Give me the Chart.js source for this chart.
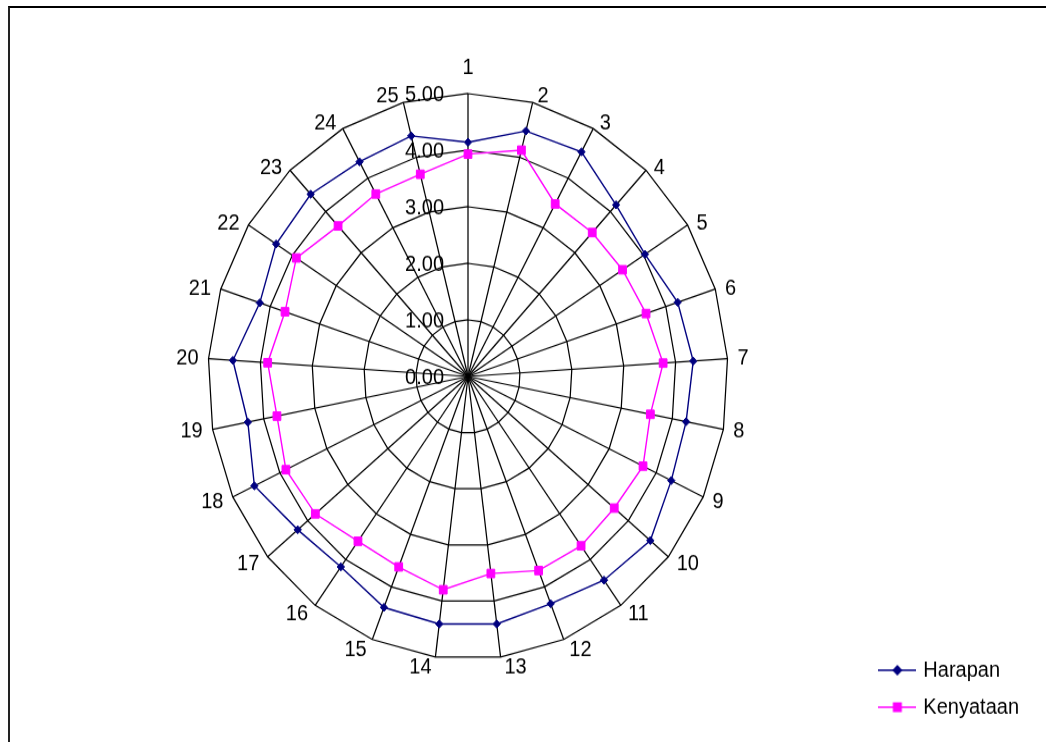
<!DOCTYPE html>
<html>
<head>
<meta charset="utf-8">
<script src="https://cdn.jsdelivr.net/npm/chart.js@4.4.1/dist/chart.umd.min.js"></script>
<style>
  html, body { margin: 0; padding: 0; background: #fff; overflow: hidden; }
  body { width: 1046px; height: 742px; position: relative; }
  #frame { position: absolute; left: 8px; top: 6px; width: 1100px; height: 800px;
           border-top: 2px solid #000; border-left: 2px solid #222; }
  #wrap { position: absolute; left: 0; top: 0; width: 1046px; height: 682px;
          transform: scaleY(1.088); transform-origin: 0 0; }
</style>
</head>
<body>
<div id="frame"></div>
<div id="wrap"><canvas id="radar"></canvas></div>
<script>
// Survey items 1..25
const categories = ['1','2','3','4','5','6','7','8','9','10','11','12','13','14','15','16','17','18','19','20','21','22','23','24','25'];

// Mean scores per item
const harapan   = [4.14, 4.48, 4.53, 4.16, 4.03, 4.24, 4.34, 4.27, 4.32, 4.55, 4.45, 4.32, 4.41,
                   4.41, 4.39, 4.16, 4.25, 4.54, 4.31, 4.53, 4.21, 4.37, 4.42, 4.33, 4.39];
const kenyataan = [3.93, 4.13, 3.48, 3.49, 3.52, 3.60, 3.76, 3.57, 3.72, 3.65, 3.70, 3.69, 3.51,
                   3.80, 3.62, 3.60, 3.81, 3.87, 3.74, 3.86, 3.70, 3.91, 3.65, 3.68, 3.69];

// Radial axis ticks
const tickValues = [0, 1, 2, 3, 4, 5];

const FONT = '"Liberation Sans", Arial, sans-serif';
Chart.defaults.font.family = FONT;
Chart.defaults.font.size = 20;
Chart.defaults.color = '#000';

const NAVY = '#000080';
const MAGENTA = '#ff00ff';

// Small line-with-marker swatches for the legend
function swatch(color, shape) {
  const c = document.createElement('canvas');
  c.width = 38; c.height = 16;
  const g = c.getContext('2d');
  g.strokeStyle = color; g.lineWidth = 1.5;
  g.beginPath(); g.moveTo(0, 8); g.lineTo(38, 8); g.stroke();
  g.fillStyle = color;
  g.beginPath();
  if (shape === 'diamond') {
    g.moveTo(19, 3); g.lineTo(24, 8); g.lineTo(19, 13); g.lineTo(14, 8);
  } else {
    g.rect(14.5, 3.5, 9, 9);
  }
  g.closePath(); g.fill();
  return c;
}
const legendIcons = [swatch(NAVY, 'diamond'), swatch(MAGENTA, 'square')];

// Axis value labels and category labels, placed around the polygon outline
const axisText = {
  id: 'axisText',
  afterDraw(chart) {
    const r = chart.scales.r;
    const ctx = chart.ctx;
    ctx.save();
    ctx.font = '20px ' + FONT;
    ctx.fillStyle = '#000';
    ctx.textBaseline = 'middle';

    ctx.textAlign = 'right';
    r.ticks.forEach(t => {
      const d = r.getDistanceFromCenterForValue(t.value);
      ctx.fillText(t.label, r.xCenter - 24, r.yCenter - d + 1.5);
    });

    ctx.textAlign = 'center';
    chart.data.labels.forEach((lab, i) => {
      const a = r.getIndexAngle(i);
      const p = r.getPointPosition(i, r.drawingArea);
      const s = Math.sin(a), c = Math.cos(a);
      const w = ctx.measureText(lab).width;
      let dx = 0, dy;
      if (Math.abs(s) > 0.01) dx = Math.sign(s) * (w / 2 + 3 + 7 * Math.abs(s));
      if (Math.abs(s) <= 0.01 && c > 0) dy = -23.5;
      else if (c > 0) dy = -6.4 * c * c * c;
      else dy = -10.1 * c;
      ctx.fillText(lab, p.x + dx, p.y + dy);
    });
    ctx.restore();
  }
};

new Chart(document.getElementById('radar'), {
  type: 'radar',
  data: {
    labels: categories,
    datasets: [
      {
        label: 'Harapan',
        data: harapan,
        borderColor: NAVY,
        backgroundColor: NAVY,
        borderWidth: 1.4,
        fill: false,
        pointStyle: 'rectRot',
        pointRadius: 3.7,
        pointBorderWidth: 1,
        pointBackgroundColor: NAVY,
        pointBorderColor: NAVY
      },
      {
        label: 'Kenyataan',
        data: kenyataan,
        borderColor: MAGENTA,
        backgroundColor: MAGENTA,
        borderWidth: 1.4,
        fill: false,
        pointStyle: 'rect',
        pointRadius: 5.5,
        pointBorderWidth: 1,
        pointBackgroundColor: MAGENTA,
        pointBorderColor: MAGENTA
      }
    ]
  },
  options: {
    responsive: true,
    maintainAspectRatio: false,
    animation: false,
    events: [],
    layout: { padding: { right: 17, bottom: 8 } },
    elements: { line: { tension: 0 } },
    scales: {
      r: {
        min: 0,
        max: 5,
        startAngle: 0,
        afterBuildTicks(scale) {
          scale.ticks = tickValues.map(v => ({ value: v }));
        },
        afterFit(scale) {
          scale.xCenter = 468;
          scale.yCenter = 346;
          scale.drawingArea = 260;
        },
        ticks: { display: false, callback: v => Number(v).toFixed(2) },
        pointLabels: { display: false },
        grid: { circular: false, color: '#000', lineWidth: 1.25 },
        angleLines: { color: '#000', lineWidth: 1.25 }
      }
    },
    plugins: {
      tooltip: { enabled: false },
      legend: {
        position: 'right',
        align: 'end',
        labels: {
          usePointStyle: true,
          pointStyleWidth: 32,
          padding: 14,
          color: '#000',
          font: { size: 20 },
          generateLabels(chart) {
            return chart.data.datasets.map((ds, i) => ({
              text: ds.label,
              pointStyle: legendIcons[i],
              fillStyle: ds.borderColor,
              strokeStyle: ds.borderColor,
              lineWidth: 0,
              hidden: false,
              datasetIndex: i,
              fontColor: '#000'
            }));
          }
        }
      }
    }
  },
  plugins: [axisText]
});
</script>
</body>
</html>
